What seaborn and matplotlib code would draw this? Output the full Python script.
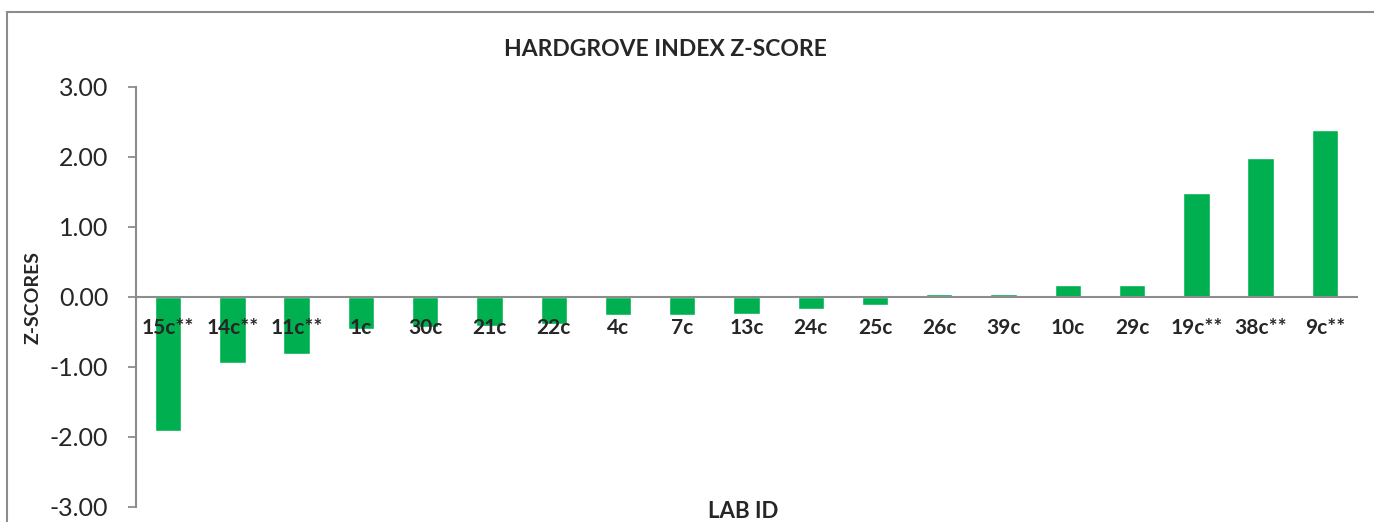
import matplotlib
matplotlib.use("Agg")
import matplotlib.pyplot as plt
from matplotlib.patches import Rectangle
import seaborn as sns
import pandas as pd

labs = ["15c**", "14c**", "11c**", "1c", "30c", "21c", "22c", "4c", "7c", "13c",
        "24c", "25c", "26c", "39c", "10c", "29c", "19c**", "38c**", "9c**"]
zscores = [-1.91, -0.94, -0.81, -0.46, -0.43, -0.41, -0.39, -0.25, -0.25, -0.24,
           -0.17, -0.11, 0.04, 0.04, 0.17, 0.17, 1.49, 1.98, 2.39]
yticks = [3, 2, 1, 0, -1, -2, -3]

sns.set_theme(style="white")
plt.rcParams['font.family'] = ['Lato', 'DejaVu Sans']

df = pd.DataFrame({"lab": labs, "z": zscores})

fig = plt.figure(figsize=(13.74, 5.22), dpi=100)
ax = fig.add_axes([136/1374, 1-507/522, 1221/1374, 420/522])

sns.barplot(data=df, x="lab", y="z", order=labs, color="#00B050", saturation=1,
            width=0.41, ax=ax)
ax.set_axisbelow(False)

ax.set_ylim(-3, 3)
ax.set_xlim(-0.5, len(labs)-0.5)
ax.set_yticks(yticks)
ax.set_yticklabels([f"{v:.2f}" for v in yticks], fontsize=18)

grey = "#8C8C8C"
for s in ["top", "right"]:
    ax.spines[s].set_visible(False)
ax.spines["left"].set_color(grey)
ax.spines["left"].set_linewidth(1.5)
ax.spines["bottom"].set_position(("data", 0))
ax.spines["bottom"].set_color(grey)
ax.spines["bottom"].set_linewidth(1.5)
ax.tick_params(axis="y", length=6, width=1.3, color=grey, left=True, pad=14)
ax.tick_params(axis="x", length=0, pad=15)
for t in ax.get_xticklabels():
    t.set_fontweight("bold")
    t.set_fontsize(15)

ax.set_xlabel("LAB ID", fontsize=16, fontweight="bold")
ax.xaxis.set_label_coords(0.497, 0.014)
ax.xaxis.label.set_va("top")
ax.set_ylabel("Z-SCORES", fontsize=14, fontweight="bold")
ax.yaxis.set_label_coords(-0.0845, 0.5)
ax.yaxis.label.set_va("center")

fig.text(665/1374, 1-50/522, "HARDGROVE INDEX Z-SCORE", ha="center", va="center",
         fontsize=16.5, fontweight="bold")

fig.add_artist(Rectangle((7/1374, -0.2), 1.2, 1-12/522+0.2, transform=fig.transFigure,
                         fill=False, edgecolor=grey, linewidth=1.5))

fig.savefig("out.png", dpi=100)
